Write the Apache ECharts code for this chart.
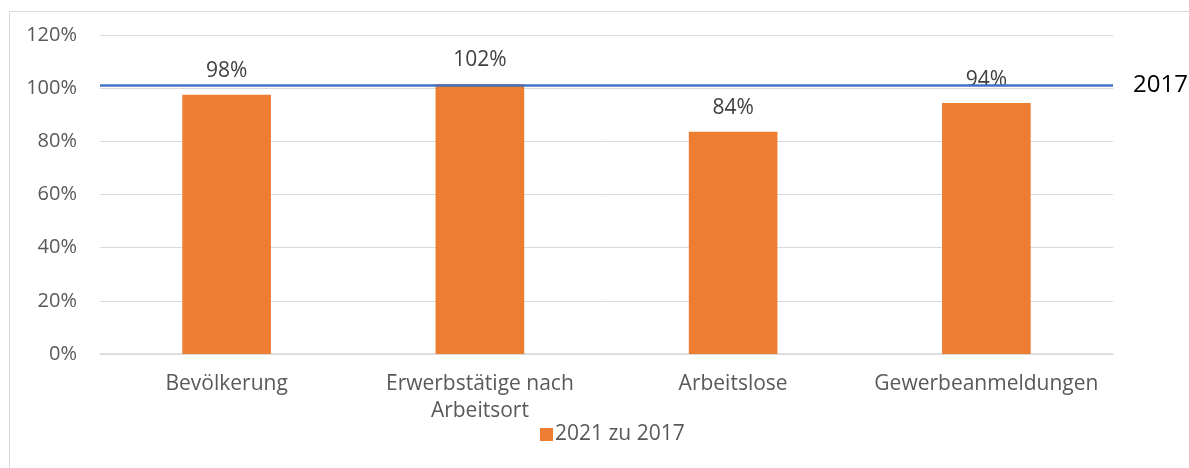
<!DOCTYPE html>
<html>
<head>
<meta charset="utf-8">
<script src="https://cdn.jsdelivr.net/npm/echarts@6/dist/echarts.min.js"></script>
<style>
  html, body { margin: 0; padding: 0; background: #fff; }
  #main { width: 1189px; height: 468px; }
</style>
</head>
<body>
<div id="main"></div>
<script>
// Werte aus dem Diagramm
var categories = ['Bevölkerung', 'Erwerbstätige nach\nArbeitsort', 'Arbeitslose', 'Gewerbeanmeldungen']
var values = [97.5, 101.6, 83.6, 94.4]
var valueLabels = ['98%', '102%', '84%', '94%']
var seriesName = '2021 zu 2017'
var refLine = [101.2]
var refLabel = '2017'
var yTicks = [0, 20, 40, 60, 80, 100, 120]

var chart = echarts.init(document.getElementById('main'))

var option = {
  animation: false,
  textStyle: { fontFamily: 'Open Sans' },
  graphic: [{
    type: 'rect',
    shape: { x: 9.5, y: 11.5, width: 1300, height: 600 },
    style: { fill: 'none', stroke: '#d9d9d9', lineWidth: 1 },
    silent: true
  }],
  grid: { left: 100, right: 76, top: 35, bottom: 114 },
  legend: {
    left: 535,
    top: 419,
    itemWidth: 13,
    itemHeight: 13,
    itemGap: 4,
    icon: 'rect',
    textStyle: { fontSize: 21, color: '#595959', fontFamily: 'Open Sans', padding: [0, 0, 0, -3] },
    data: [seriesName]
  },
  xAxis: {
    type: 'category',
    data: categories,
    axisTick: { show: false },
    axisLine: { lineStyle: { color: '#d9d9d9', width: 1.5 } },
    axisLabel: { fontSize: 21, color: '#595959', margin: 17, lineHeight: 27, interval: 0 }
  },
  yAxis: {
    type: 'value',
    min: yTicks[0],
    max: yTicks[yTicks.length - 1],
    interval: 20,
    axisLine: { show: false },
    axisTick: { show: false },
    splitLine: { lineStyle: { color: '#d9d9d9', width: 1 } },
    axisLabel: {
      fontSize: 20,
      color: '#595959',
      margin: 23,
      formatter: function (v) { return v + '%' }
    }
  },
  series: [{
    name: seriesName,
    type: 'bar',
    data: values,
    barWidth: '35%',
    itemStyle: { color: '#ed7d31' },
    label: {
      show: true,
      position: 'top',
      distance: 13,
      fontSize: 21,
      color: '#404040',
      formatter: function (p) { return valueLabels[p.dataIndex] }
    },
    markLine: {
      silent: true,
      symbol: ['none', 'none'],
      lineStyle: { color: '#4472c4', width: 2.5, type: 'solid' },
      label: {
        show: true,
        position: 'end',
        distance: 20,
        formatter: refLabel,
        fontSize: 24,
        fontFamily: 'Open Sans',
        color: '#000',
        padding: [12, 0, 0, 0]
      },
      data: [{ yAxis: refLine[0] }]
    }
  }]
}

chart.setOption(option)
</script>
</body>
</html>
